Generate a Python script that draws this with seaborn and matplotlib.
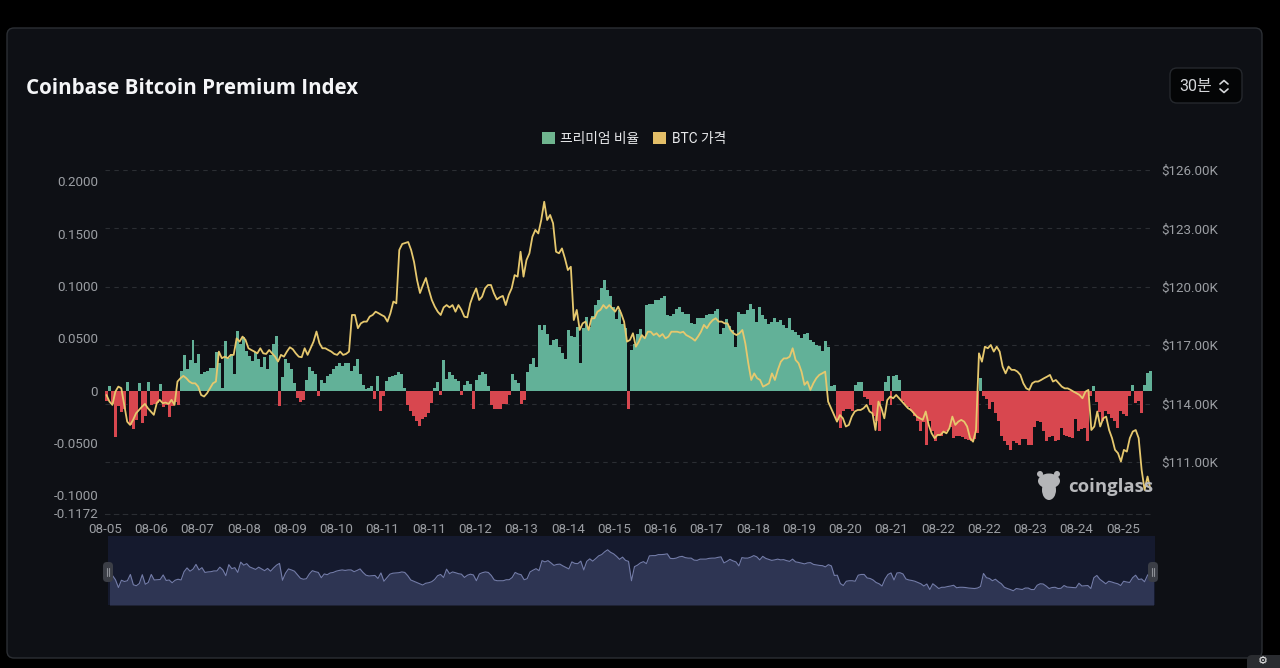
import numpy as np
import pandas as pd
import matplotlib
matplotlib.use("Agg")
import matplotlib.pyplot as plt
from matplotlib.patches import FancyBboxPatch, Rectangle, Ellipse
from matplotlib.lines import Line2D
import seaborn as sns

TITLE = "Coinbase Bitcoin Premium Index"
SERIES_PREMIUM = "프리미엄 비율"
SERIES_PRICE = "BTC 가격"
INTERVAL = "30분"

date_labels = ["08-05","08-06","08-07","08-08","08-09","08-10","08-11","08-11","08-12","08-13","08-14","08-15",
               "08-16","08-17","08-18","08-19","08-20","08-21","08-22","08-22","08-23","08-24","08-25"]
premium_ticks = [0.2, 0.15, 0.1, 0.05, 0, -0.05, -0.1, -0.1172]
premium_labels = ["0.2000","0.1500","0.1000","0.0500","0","-0.0500","-0.1000","-0.1172"]
price_ticks = [126, 123, 120, 117, 114, 111]
price_labels = ["$126.00K","$123.00K","$120.00K","$117.00K","$114.00K","$111.00K"]

# premium index, thousandths
premium_aug05_11 = [-10,4,-13,-44,-15,-20,-17,8,-33,-37,-28,7,-31,-24,8,-14,-13,-12,6,-16,-14,-25,-15,-11,-14,
    19,34,21,29,48,26,35,16,18,19,22,22,37,26,3,47,31,35,16,57,45,51,38,33,28,37,30,23,32,21,34,45,52,-15,13,30,26,21,7,
    -7,-11,-9,10,23,19,16,-5,10,7,14,16,21,24,26,24,26,26,19,24,30,16,5,2,3,4,-8,14,-19,-5,9,13,14,15,18,16,3,
    -14,-19,-24,-29,-34,-27,-25,-21,-12,3]
premium_aug12_19 = [8,-4,29,11,18,15,11,9,-4,5,9,6,-17,10,15,18,16,4,-14,-17,-17,-17,-13,-13,-4,16,10,7,-13,-9,18,25,31,23,
    63,58,63,54,44,48,49,42,36,30,58,52,51,61,26,60,70,61,71,82,87,98,106,96,90,80,68,77,64,60,-17,39,45,54,59,51,
    82,83,83,87,87,88,90,72,71,73,78,80,75,73,73,65,64,69,69,69,72,73,73,76,78,54,60,68,62,58,42,75,73,73,77,83,78,66,80,72,68,64,66,69,66,
    67,63,60,69,58,56,53,50,54,55,48,46,44,43,38,47,42]
premium_aug20_25 = [4,5,-28,-36,-19,-17,-17,-19,5,8,8,-6,-8,-14,-24,-29,-38,-10,8,14,-14,14,15,10,-10,-14,-16,-19,-24,-29,-38,-30,-52,
    -29,-38,-48,-43,-43,-40,-38,-35,-45,-43,-43,-44,-46,-47,-48,-46,-40,12,-5,-8,-17,-11,-21,-29,-43,-48,-52,-57,-48,-50,-52,-46,-46,-52,-52,
    -35,-29,-30,-38,-48,-44,-43,-48,-47,-36,-42,-43,-44,-45,-27,-38,-37,-36,-48,-5,4,-11,-20,-29,-19,-22,-26,-29,-36,-19,-22,-24,-5,5,-12,-10,-21,5,17,19]

# BTC price, thousand USD
price_aug05_11 = [114.44,114.10,113.93,114.61,114.87,114.79,113.93,113.07,112.90,113.16,113.50,113.67,113.84,113.98,113.76,113.59,113.42,
    114.02,114.19,114.02,114.05,113.98,114.19,113.93,115.13,115.30,115.42,115.30,115.13,115.04,115.04,114.87,114.44,114.36,114.53,114.79,115.04,115.13,
    116.67,116.33,116.41,116.33,116.50,116.50,117.35,117.18,117.44,117.27,116.84,116.75,116.67,116.58,116.84,116.58,116.55,116.75,116.58,116.41,116.16,
    116.50,116.41,116.67,116.89,116.79,116.58,116.41,116.38,116.84,116.50,116.84,117.18,117.70,117.10,116.84,116.84,116.75,116.67,116.55,116.50,116.67,116.50,116.55,116.67,
    118.55,118.55,117.87,118.12,118.21,118.21,118.47,118.55,118.72,118.64,118.55,118.47,118.21,118.64,119.24,119.15,
    121.89,122.20,122.25,122.30,121.89,121.27,120.35,119.68,120.09,120.45,119.84,119.32]
price_aug12_19 = [118.98,118.72,118.55,118.94,119.06,118.94,119.06,118.72,119.06,118.81,118.46,118.43,119.15,119.58,119.92,119.32,119.49,119.92,120.09,120.09,
    119.66,119.35,119.46,119.53,119.06,119.58,119.92,120.60,120.52,121.80,120.52,121.37,121.72,122.57,122.92,122.74,123.43,124.37,123.43,123.69,123.26,121.80,121.72,121.97,121.46,120.86,121.03,
    118.29,118.81,117.78,118.12,118.21,117.78,118.38,118.38,118.72,118.81,119.06,118.89,119.06,118.89,118.72,118.98,118.64,118.21,117.18,117.27,117.61,116.92,117.18,117.52,117.35,117.69,117.69,
    117.52,117.61,117.44,117.57,117.35,117.44,117.69,117.69,117.69,117.64,117.69,117.52,117.44,117.35,117.23,117.44,117.69,118.04,117.87,118.12,118.29,118.38,118.21,118.21,118.12,118.12,117.78,117.61,117.52,117.61,117.78,
    117.09,116.07,115.21,115.55,115.30,115.21,114.87,114.95,115.04,115.55,115.21]
price_aug20_25 = [115.73,116.15,116.32,116.32,116.41,116.84,116.24,116.07,115.64,114.96,115.13,114.70,115.04,115.30,115.47,115.55,115.64,
    114.10,113.76,113.41,113.07,113.41,113.24,112.82,112.90,113.33,113.59,113.67,113.67,113.76,113.93,113.59,113.50,112.64,114.10,113.76,113.24,114.18,114.36,114.27,114.44,114.27,114.10,113.93,113.76,113.67,113.50,113.33,113.24,113.16,113.59,
    112.90,112.47,112.22,112.39,112.39,112.56,112.47,112.73,113.33,112.90,113.07,113.16,113.07,112.82,112.22,112.04,112.64,
    116.58,116.15,116.92,116.84,117.01,116.67,116.92,116.67,115.90,115.55,115.90,115.73,115.73,115.64,115.47,115.04,114.78,114.70,115.04,115.13,115.13,115.21,115.30,115.38,115.47,115.13,115.21,115.04,114.87,114.78,114.78,114.70,114.61,114.53,114.44,114.27,114.61,114.70,
    112.64,112.82,113.59,112.82,113.24,113.33,112.64,112.22,111.62,111.45,111.02,111.62,111.53,112.22,112.56,112.64,112.22,110.59,109.56,110.25,109.56]

premium = np.array(premium_aug05_11 + premium_aug12_19 + premium_aug20_25) / 1000.0
price = np.array(price_aug05_11 + price_aug12_19 + price_aug20_25)
n = len(premium)
idx = np.arange(n)
df = pd.DataFrame({"i": idx, "premium": premium, "side": np.where(premium >= 0, "up", "down")})
line_df = pd.DataFrame({"i": np.linspace(0, n - 1, len(price)), "price": price})

W, H = 1280, 668
BG = "#0e1015"
GREEN = "#62B198"
RED = "#D8474F"
GOLD = "#E6C86E"
TICK = "#9b9ea3"
GRID = "#2b2e33"

sns.set_theme(style="dark")
plt.rcParams["font.family"] = ["Roboto", "Noto Sans CJK KR", "DejaVu Sans"]
plt.rcParams["axes.unicode_minus"] = False

fig = plt.figure(figsize=(W / 100, H / 100), dpi=100, facecolor="#000000")

def rect(l, t, r, b):
    return [l / W, 1 - b / H, (r - l) / W, (b - t) / H]

# page furniture
bg = fig.add_axes([0, 0, 1, 1], zorder=0)
bg.set_xlim(0, W); bg.set_ylim(H, 0); bg.axis("off")
bg.add_patch(FancyBboxPatch((7, 28), 1255, 630, boxstyle="round,pad=0,rounding_size=7", fc=BG, ec="#2c2f34", lw=1))
bg.add_patch(FancyBboxPatch((1170, 68), 72, 35, boxstyle="round,pad=0,rounding_size=7", fc="#040506", ec="#25282d", lw=1))
bg.text(26, 89, TITLE, color="#f4f5f7", fontsize=14.8, fontweight="bold", family=["Open Sans", "DejaVu Sans"], va="center", ha="left")
bg.text(1179, 86, INTERVAL, color="#d5d7da", fontsize=11.5, va="center", ha="left")
for pts in ([(1220, 84), (1224, 80.5), (1228, 84)], [(1220, 89), (1224, 92.5), (1228, 89)]):
    bg.add_line(Line2D(*zip(*pts), color="#d5d7da", lw=1.2))
bg.add_patch(FancyBboxPatch((1247, 655), 40, 20, boxstyle="round,pad=0,rounding_size=5", fc="#2a2c30", ec="none"))
bg.text(1263, 661.5, "\u2699", color="#f2f2f2", fontsize=8, family="DejaVu Sans", ha="center", va="center")

# legend
handles = [Rectangle((0, 0), 1, 1, fc="#6FB58F", ec="none"), Rectangle((0, 0), 1, 1, fc="#E3BE68", ec="none")]
fig.legend(handles, [SERIES_PREMIUM, SERIES_PRICE], loc="center", bbox_to_anchor=(634 / W, 1 - 138.5 / H), ncol=2,
           frameon=False, labelcolor="#e8e9eb", prop={"family": ["Roboto", "Noto Sans CJK KR"], "size": 9.9},
           handlelength=0.95, handleheight=0.95, handletextpad=0.4, columnspacing=1.0, borderpad=0)

PLOT = rect(105, 170, 1152, 513.5)
XLIM = (-0.5, n - 0.5)
PRICE_LIM = (108.35, 126.0)
PREM_LIM = (-0.1172, 0.2106)

# grid and price axis labels
ax_g = fig.add_axes(PLOT, zorder=1, facecolor="none")
ax_g.set_xlim(XLIM); ax_g.set_ylim(PRICE_LIM)
ax_g.set_yticks(price_ticks, price_labels)
ax_g.yaxis.tick_right()
ax_g.tick_params(axis="y", length=0, pad=7, labelcolor=TICK, labelsize=9.6)
ax_g.set_xticks([])
ax_g.grid(axis="y", color=GRID, ls=(0, (4, 4)), lw=0.8)
ax_g.set_xlabel("")
for s in ax_g.spines.values():
    s.set_visible(False)
ax_g.spines["bottom"].set_visible(True)
ax_g.spines["bottom"].set_color(GRID)
ax_g.spines["bottom"].set_linestyle((0, (4, 4)))
ax_g.spines["bottom"].set_linewidth(0.8)

# premium bars
ax = fig.add_axes(PLOT, zorder=2, facecolor="none")
sns.barplot(data=df, x="i", y="premium", hue="side", palette={"up": GREEN, "down": RED}, dodge=False, native_scale=True,
            width=1.0, saturation=1, linewidth=0, errorbar=None, legend=False, ax=ax)
ax.set_xlim(XLIM); ax.set_ylim(PREM_LIM)
ax.set_yticks(premium_ticks, premium_labels)
ax.tick_params(axis="y", length=0, pad=5, labelcolor=TICK, labelsize=9.6)
ticks = np.arange(len(date_labels)) * 46.27 / (1047 / n) - 0.5
ax.set_xticks(ticks, date_labels)
ax.tick_params(axis="x", length=0, pad=7, labelcolor=TICK, labelsize=9.6)
ax.set_xlabel(""); ax.set_ylabel("")
ax.grid(False)
for s in ax.spines.values():
    s.set_visible(False)

# price line
ax_p = fig.add_axes(PLOT, zorder=3, facecolor="none")
sns.lineplot(data=line_df, x="i", y="price", color=GOLD, lw=1.3, ax=ax_p, legend=False, errorbar=None)
ax_p.set_xlim(XLIM); ax_p.set_ylim(PRICE_LIM)
ax_p.axis("off")

# range slider overview of the premium series
ax_m = fig.add_axes(rect(108, 536, 1155, 605), zorder=2, facecolor="#151a2e")
sns.lineplot(data=df, x="i", y="premium", color="#737ca8", lw=0.8, ax=ax_m, legend=False, errorbar=None)
MIN_LIM = (-0.1135, 0.161)
ax_m.fill_between(idx, premium, MIN_LIM[0], color="#2e3553", lw=0)
ax_m.set_xlim(XLIM); ax_m.set_ylim(MIN_LIM)
ax_m.axis("on"); ax_m.set_xticks([]); ax_m.set_yticks([]); ax_m.set_xlabel(""); ax_m.set_ylabel("")
for s in ax_m.spines.values():
    s.set_visible(False)

# overlay: watermark and slider handles
fg = fig.add_axes([0, 0, 1, 1], zorder=5, facecolor="none")
fg.set_xlim(0, W); fg.set_ylim(H, 0); fg.axis("off")
wm = "#b4b5b8"
fg.add_patch(Ellipse((1049, 481), 22, 15, fc=wm, ec="none"))
fg.add_patch(Ellipse((1049, 490), 14, 20, fc=wm, ec="none"))
fg.add_patch(Ellipse((1040, 474), 6, 6, fc=wm, ec="none"))
fg.add_patch(Ellipse((1057, 474), 6, 6, fc=wm, ec="none"))
fg.text(1068, 486.5, "coinglass", color="#b8b9bc", fontsize=13.3, fontweight="bold", family=["Open Sans", "DejaVu Sans"], va="center", ha="left")
for hx in (108, 1153):
    fg.add_patch(FancyBboxPatch((hx - 5, 562), 10, 20, boxstyle="round,pad=0,rounding_size=4", fc="#3b3e46", ec="none"))
    for dx in (-1.3, 1.3):
        fg.add_line(Line2D([hx + dx, hx + dx], [568, 576], color="#8c8f96", lw=0.8))

fig.savefig("out.png", dpi=100, facecolor="#000000")
